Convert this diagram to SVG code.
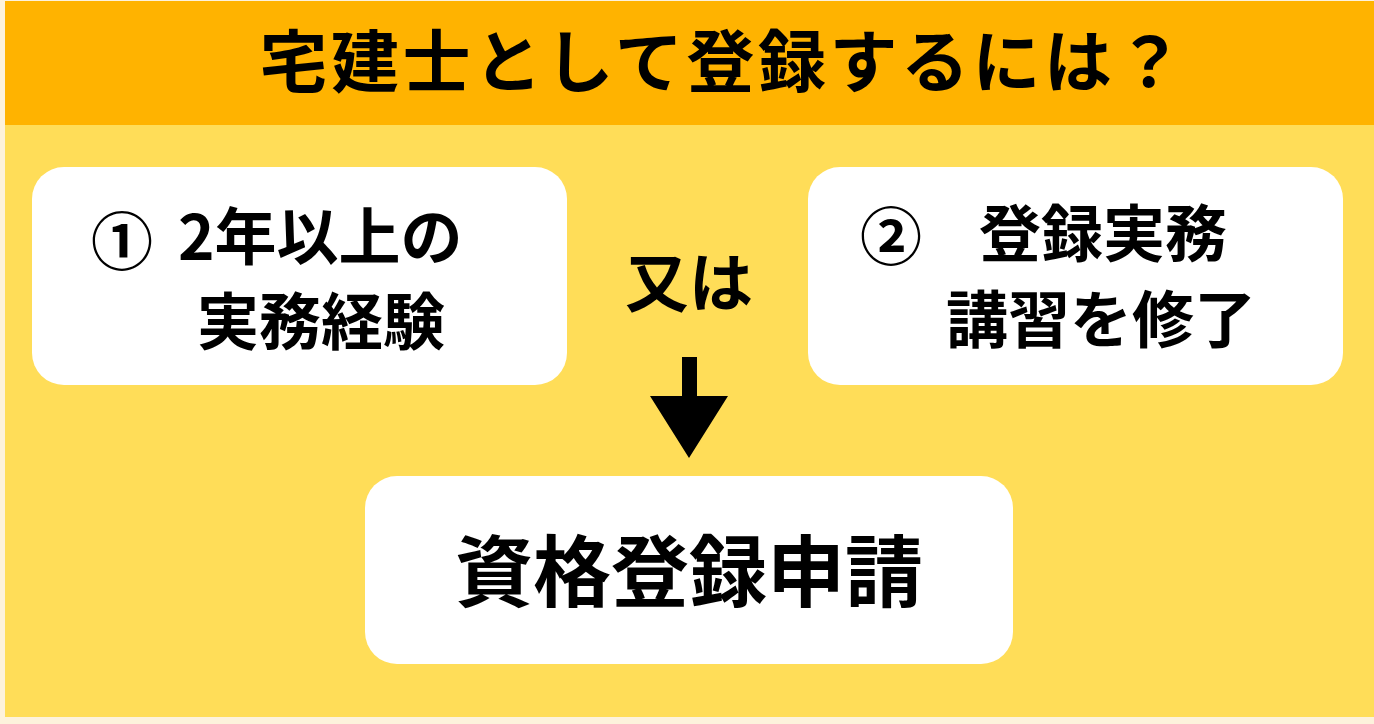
<svg xmlns="http://www.w3.org/2000/svg" width="1374" height="724" viewBox="0 0 1374 724">
<style>
.t{font-family:"Noto Sans CJK JP","Noto Sans CJK SC",sans-serif;font-weight:700;fill:#000}
.box{fill:#fff}
</style>
<rect x="0" y="0" width="1374" height="724" fill="#FDF2DC"/>
<rect x="5" y="125" width="1369" height="592" fill="#FFDD58"/>
<rect x="5" y="1" width="1369" height="124" fill="#FFB300"/>
<g id="title">
<text class="t" x="259.5" y="87" font-size="68" letter-spacing="3.5">宅建士として登録するには？</text>
</g>
<g id="node1">
<rect class="box" x="32" y="167" width="535" height="218" rx="32"/>
<text class="t" x="122" y="265" font-size="62" text-anchor="middle">①</text>
<text class="t" x="178" y="260" font-size="62">2年以上の</text>
<text class="t" x="321" y="345" font-size="62" text-anchor="middle">実務経験</text>
</g>
<g id="node2">
<rect class="box" x="808" y="167" width="535" height="218" rx="32"/>
<text class="t" x="891" y="260" font-size="62" text-anchor="middle">②</text>
<text class="t" x="1103" y="257" font-size="62" text-anchor="middle">登録実務</text>
<text class="t" x="1101" y="343" font-size="62" text-anchor="middle">講習を修了</text>
</g>
<g id="or">
<text class="t" x="689" y="306" font-size="64" text-anchor="middle">又は</text>
</g>
<g id="node3">
<rect class="box" x="365" y="476" width="648" height="188" rx="32"/>
<text class="t" x="689" y="601" font-size="78" text-anchor="middle">資格登録申請</text>
</g>
<g id="connectors">
<polygon points="682,357 697,357 697,396 728,396 689,458 650,396 682,396" fill="#000"/>
</g>
</svg>
